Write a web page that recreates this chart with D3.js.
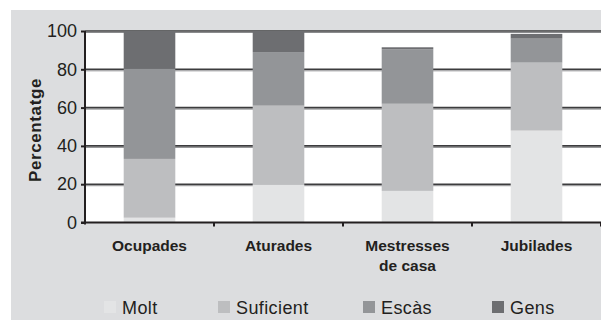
<!DOCTYPE html>
<html>
<head>
<meta charset="utf-8">
<script src="https://cdn.jsdelivr.net/npm/d3@7"></script>
<style>
  body { margin: 0; background: #fff; }
  svg text { font-family: "Liberation Sans", Arial, sans-serif; fill: #231f20; }
</style>
</head>
<body>
<div class="chart"></div>
<script>
// Stacked bars: satisfaction by group (percent)

var groups = ["Ocupades", "Aturades", "Mestresses de casa", "Jubilades"];
var seriesNames = ["Molt", "Suficient", "Escàs", "Gens"];
var molt = [2.5, 20, 16.5, 48];
var suficient = [30.7, 41, 45.5, 35.5];
var escas = [47, 28, 28.5, 12.5];
var gens = [19.8, 11, 1, 2.5];
var yTicks = [0, 20, 40, 60, 80, 100];
var colors = ["#e3e4e5", "#bdbec0", "#939598", "#6d6e71"];

var svgWidth = 601;
var svgHeight = 320;

var margin = { top: 31, right: 0, bottom: 97.5, left: 85 };
var width = svgWidth - margin.left - margin.right;
var height = svgHeight - margin.top - margin.bottom;

var svg = d3.select(".chart")
  .append("svg")
  .attr("width", svgWidth)
  .attr("height", svgHeight);

// grey panel behind everything
svg.append("rect")
  .attr("x", 11)
  .attr("y", 10)
  .attr("width", svgWidth - 11)
  .attr("height", svgHeight - 10)
  .attr("fill", "#dcdddf");

var chartGroup = svg.append("g")
  .attr("transform", `translate(${margin.left}, ${margin.top})`);

chartGroup.append("rect")
  .attr("width", width)
  .attr("height", height)
  .attr("fill", "#fff");

// build rows for the stack
var rows = groups.map(function(g, i) {
  return { group: g, "Molt": molt[i], "Suficient": suficient[i], "Escàs": escas[i], "Gens": gens[i] };
});
var stacked = d3.stack().keys(seriesNames)(rows);

var xScale = d3.scaleBand()
  .domain(groups)
  .range([0, width])
  .paddingInner(0.6)
  .paddingOuter(0.3);

var yScale = d3.scaleLinear()
  .domain([0, 100])
  .range([height, 0]);

// gridlines (dark line with a lighter edge under it)
var grid = chartGroup.append("g");
grid.selectAll(".g2")
  .data(yTicks.filter(d => d > 0))
  .enter()
  .append("line")
  .attr("x1", 0)
  .attr("x2", width)
  .attr("y1", d => yScale(d) + 1.5)
  .attr("y2", d => yScale(d) + 1.5)
  .attr("stroke", "#8a8b8d")
  .attr("stroke-width", 1);
grid.selectAll(".g1")
  .data(yTicks.filter(d => d > 0))
  .enter()
  .append("line")
  .attr("x1", 0)
  .attr("x2", width)
  .attr("y1", d => yScale(d))
  .attr("y2", d => yScale(d))
  .attr("stroke", "#3c3c3e")
  .attr("stroke-width", 1.6);

// bars
chartGroup.selectAll(".series")
  .data(stacked)
  .enter()
  .append("g")
  .attr("fill", (d, i) => colors[i])
  .selectAll("rect")
  .data(d => d)
  .enter()
  .append("rect")
  .attr("x", d => xScale(d.data.group))
  .attr("y", d => yScale(d[1]))
  .attr("height", d => yScale(d[0]) - yScale(d[1]))
  .attr("width", xScale.bandwidth());

// y axis
var leftAxis = d3.axisLeft(yScale).tickValues(yTicks).tickSize(4).tickPadding(4);
var yAxis = chartGroup.append("g").call(leftAxis);
yAxis.select(".domain").attr("stroke", "#231f20").attr("stroke-width", 2)
  .attr("d", `M0,${height + 2}V0`);
yAxis.selectAll(".tick line").attr("stroke", "#231f20").attr("stroke-width", 2);
yAxis.selectAll("text")
  .style("font-size", "18px")
  .style("font-family", "'Liberation Sans', Arial, sans-serif")
  .attr("fill", "#231f20");

// x axis: ticks at band boundaries
var xAxisG = chartGroup.append("g")
  .attr("transform", `translate(0, ${height})`);
xAxisG.append("line")
  .attr("x1", -4)
  .attr("x2", width)
  .attr("stroke", "#231f20")
  .attr("stroke-width", 2);
var step = xScale.step();
xAxisG.selectAll(".xtick")
  .data(groups)
  .enter()
  .append("line")
  .attr("x1", (d, i) => (i + 1) * step)
  .attr("x2", (d, i) => (i + 1) * step)
  .attr("y1", 0)
  .attr("y2", 4)
  .attr("stroke", "#231f20")
  .attr("stroke-width", 2);

var xLabels = xAxisG.selectAll(".xlabel")
  .data(groups)
  .enter()
  .append("text")
  .attr("text-anchor", "middle")
  .style("font-size", "15.5px")
  .style("font-weight", "bold")
  .attr("transform", d => `translate(${xScale(d) + xScale.bandwidth() / 2}, 28)`);

xLabels.each(function(d) {
  var words = d === "Mestresses de casa" ? ["Mestresses", "de casa"] : [d];
  var t = d3.select(this);
  words.forEach(function(w, j) {
    t.append("tspan").attr("x", 0).attr("dy", j === 0 ? 0 : 20).text(w);
  });
});

// y axis title
svg.append("text")
  .attr("transform", "translate(41, 130) rotate(-90)")
  .attr("text-anchor", "middle")
  .style("font-size", "17px")
  .style("font-weight", "bold")
  .style("letter-spacing", "0.6px")
  .text("Percentatge");

// legend
var legendX = [104, 218, 363, 492];
var legend = svg.append("g").attr("transform", "translate(0, 301)");
seriesNames.forEach(function(name, i) {
  var item = legend.append("g").attr("transform", `translate(${legendX[i]}, 0)`);
  item.append("rect")
    .attr("width", 12)
    .attr("height", 12)
    .attr("fill", colors[i]);
  item.append("text")
    .attr("x", 18)
    .attr("y", 12.5)
    .style("font-size", "18px")
    .style("letter-spacing", "0.4px")
    .text(name);
});
</script>
</body>
</html>
